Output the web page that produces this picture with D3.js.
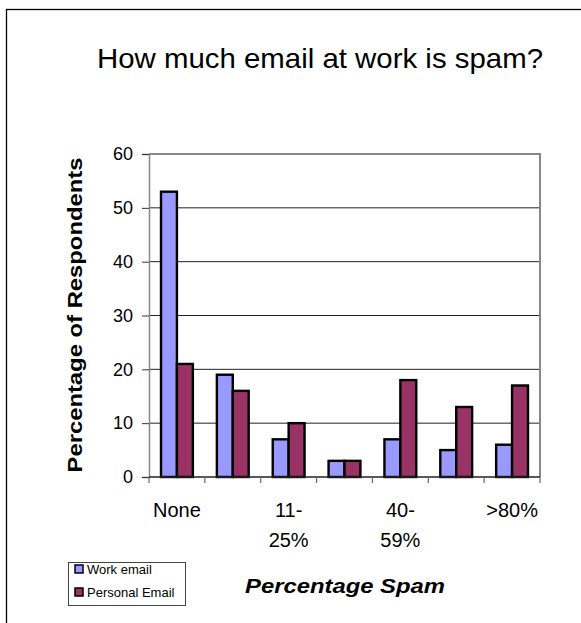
<!DOCTYPE html>
<html>
<head>
<meta charset="utf-8">
<script src="https://cdn.jsdelivr.net/npm/d3@7"></script>
<style>
  html, body { margin: 0; padding: 0; background: #fff; }
  svg { display: block; }
  text { font-family: "Liberation Sans", Arial, sans-serif; fill: #000; }
</style>
</head>
<body>
<svg id="chart" width="581" height="623"></svg>
<script>
const categories = ["None", "1-10%", "11-25%", "26-39%", "40-59%", "60-80%", ">80%"];
const shownLabels = ["None", "", "11-25%", "", "40-59%", "", ">80%"];
const workEmail = [53, 19, 7, 3, 7, 5, 6];
const personalEmail = [21, 16, 10, 3, 18, 13, 17];
const seriesNames = ["Work email", "Personal Email"];
const seriesColors = ["#9999FF", "#993366"];
const yTicks = [0, 10, 20, 30, 40, 50, 60];
const titleText = "How much email at work is spam?";
const yTitle = "Percentage of Respondents";
const xTitle = "Percentage Spam";

const svg = d3.select("#chart");

// outer chart border
svg.append("rect").attr("x", 6.5).attr("y", 9.5).attr("width", 600).attr("height", 640)
  .attr("fill", "none").attr("stroke", "#000").attr("stroke-width", 1.3);

const plot = { left: 149, right: 540, top: 154, bottom: 477 };

const y = d3.scaleLinear().domain([0, 60]).range([plot.bottom, plot.top]);
const x = d3.scaleBand().domain(categories).range([plot.left, plot.right])
  .paddingInner(0.43).paddingOuter(0.215);
const xs = d3.scaleBand().domain(seriesNames).range([0, x.bandwidth()]);

// gridlines
svg.append("g").selectAll("line").data(yTicks.filter(t => t > 0 && t < 60)).join("line")
  .attr("x1", plot.left).attr("x2", plot.right)
  .attr("y1", d => y(d)).attr("y2", d => y(d))
  .attr("stroke", "#222").attr("stroke-width", 1);

// plot border top & right (gray)
svg.append("path")
  .attr("d", `M${plot.left},${y(60)}H${plot.right}V${plot.bottom}`)
  .attr("fill", "none").attr("stroke", "#888").attr("stroke-width", 2);

// y axis
const yAxis = d3.axisLeft(y).tickValues(yTicks).tickSize(7).tickPadding(9);
const gy = svg.append("g").attr("transform", `translate(${plot.left},0)`).call(yAxis);
gy.select(".domain").attr("stroke", "#888").attr("stroke-width", 1.5);
gy.selectAll(".tick line").attr("stroke", "#333");
gy.selectAll(".tick text").attr("font-size", 18).attr("font-family", "Liberation Sans, Arial, sans-serif")
  .attr("fill", "#000");

// bars
const groups = svg.append("g").selectAll("g").data(categories).join("g")
  .attr("transform", d => `translate(${x(d)},0)`);
groups.selectAll("rect").data((d, i) => [
  { s: seriesNames[0], v: workEmail[i], c: seriesColors[0] },
  { s: seriesNames[1], v: personalEmail[i], c: seriesColors[1] }
]).join("rect")
  .attr("x", d => xs(d.s)).attr("width", xs.bandwidth())
  .attr("y", d => y(d.v)).attr("height", d => y(0) - y(d.v))
  .attr("fill", d => d.c).attr("stroke", "#000").attr("stroke-width", 2.4);

// x axis line with boundary ticks
const step = x.step();
const boundaries = d3.range(categories.length + 1).map(i => plot.left + i * step);
const gx = svg.append("g");
gx.append("line").attr("x1", plot.left).attr("x2", plot.right)
  .attr("y1", plot.bottom).attr("y2", plot.bottom).attr("stroke", "#222").attr("stroke-width", 1.5);
gx.selectAll("line.tk").data(boundaries).join("line").attr("class", "tk")
  .attr("x1", d => d).attr("x2", d => d)
  .attr("y1", plot.bottom).attr("y2", plot.bottom + 6)
  .attr("stroke", "#666").attr("stroke-width", 1.2);

// x labels (wrapped)
categories.forEach((c, i) => {
  const lab = shownLabels[i];
  if (!lab) return;
  const cx = x(c) + x.bandwidth() / 2;
  const parts = lab.includes("-") ? [lab.slice(0, lab.indexOf("-") + 1), lab.slice(lab.indexOf("-") + 1)] : [lab];
  parts.forEach((p, j) => {
    svg.append("text").attr("x", cx).attr("y", 517 + j * 30)
      .attr("text-anchor", "middle").attr("font-size", 20).text(p);
  });
});

// title
svg.append("text").attr("x", 320).attr("y", 68).attr("text-anchor", "middle")
  .attr("font-size", 28).attr("textLength", 446).attr("lengthAdjust", "spacingAndGlyphs")
  .text(titleText);

// y title
svg.append("text").attr("transform", "translate(82,315) rotate(-90)")
  .attr("text-anchor", "middle").attr("font-size", 21).attr("font-weight", "bold")
  .attr("textLength", 315).attr("lengthAdjust", "spacingAndGlyphs")
  .text(yTitle);

// x title
svg.append("text").attr("x", 345).attr("y", 593).attr("text-anchor", "middle")
  .attr("font-size", 21).attr("font-weight", "bold").attr("font-style", "italic")
  .attr("textLength", 200).attr("lengthAdjust", "spacingAndGlyphs")
  .text(xTitle);

// legend
const lg = svg.append("g");
lg.append("rect").attr("x", 68.5).attr("y", 562.5).attr("width", 117).attr("height", 43)
  .attr("fill", "#fff").attr("stroke", "#444").attr("stroke-width", 1);
seriesNames.forEach((n, i) => {
  lg.append("rect").attr("x", 75).attr("y", 565 + i * 23).attr("width", 8).attr("height", 8)
    .attr("fill", seriesColors[i]).attr("stroke", "#000").attr("stroke-width", 1.5);
  lg.append("text").attr("x", 87).attr("y", 573.5 + i * 23).attr("font-size", 13).text(n);
});
</script>
</body>
</html>
